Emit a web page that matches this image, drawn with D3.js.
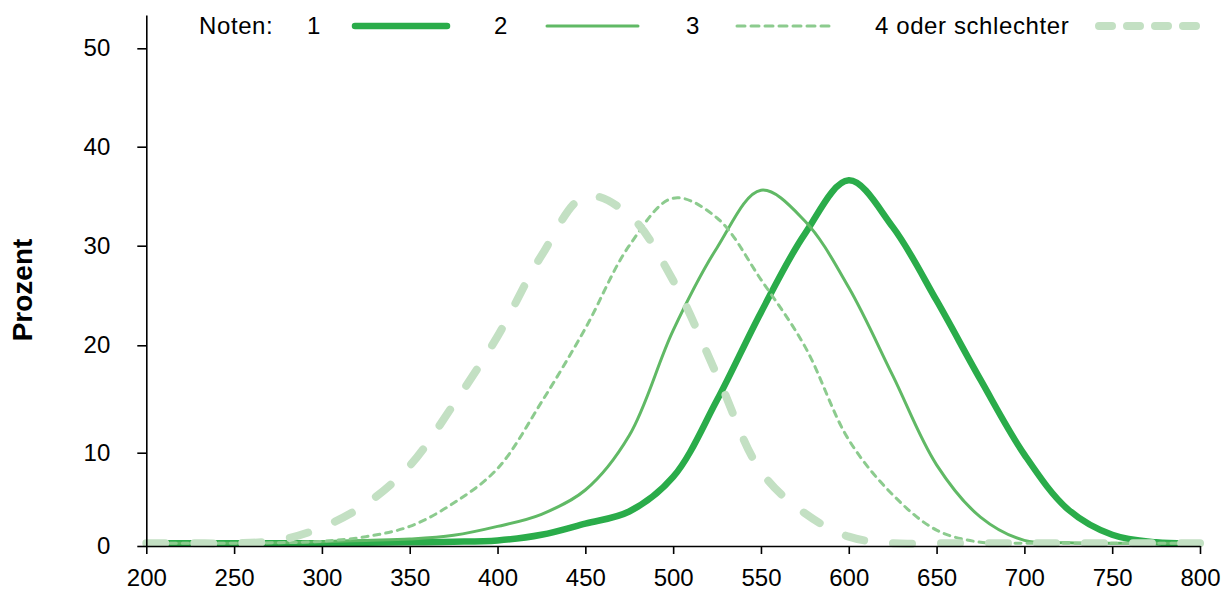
<!DOCTYPE html>
<html>
<head>
<meta charset="utf-8">
<script src="https://cdn.jsdelivr.net/npm/d3@7"></script>
<style>
  body { margin: 0; background: #fff; }
  svg { display: block; font-family: "Liberation Sans", Arial, sans-serif; }
</style>
</head>
<body>
<svg id="chart" width="1221" height="592"></svg>
<script>
// ---- data ----
const scores = [200,225,250,275,300,325,350,375,400,425,450,475,500,525,550,575,600,625,650,675,700,725,750,775,800];
const note1 = [0.3,0.3,0.3,0.3,0.3,0.35,0.4,0.45,0.6,1.2,2.4,3.7,7.4,14.9,23.3,31.2,36.6,31.9,24.5,16.8,9.8,3.9,1.2,0.4,0.3];
const note2 = [0.3,0.3,0.3,0.35,0.45,0.6,0.75,1.15,2.1,3.4,6.0,11.6,21.5,29.8,35.6,32.5,25.8,17.2,8.7,3.1,0.6,0.35,0.3,0.3,0.3];
const note3 = [0.3,0.3,0.3,0.35,0.5,1.0,2.1,4.6,8.3,14.7,21.7,30.0,34.8,32.8,26.6,19.9,11.2,5.5,1.7,0.4,0.3,0.3,0.3,0.3,0.3];
const note4 = [0.3,0.3,0.3,0.6,2.0,4.5,8.6,14.5,20.9,29.0,35.0,33.1,26.5,17.2,8.0,3.5,1.0,0.3,0.3,0.3,0.3,0.3,0.3,0.3,0.3];
const seriesNames = ["1","2","3","4 oder schlechter"];
const xTicks = [200,250,300,350,400,450,500,550,600,650,700,750,800];
const yTicks = [0,10,20,30,40,50];
const legendTitle = "Noten:";
const yLabel = "Prozent";

// ---- styles ----
const styles = [
  {color:"#2aac4a", width:6.5, dash:null, cap:"round", legendDash:null},
  {color:"#60b965", width:3, dash:null, cap:"round", legendDash:null},
  {color:"#8ccb8e", width:3, dash:"6,6", cap:"round", legendDash:"8,6"},
  {color:"#c3e0c3", width:8, dash:"19,29", cap:"round", legendDash:"13,15"}
];

const svg = d3.select("#chart");
const x = d3.scaleLinear().domain([200,800]).range([146.3,1200]);
// axis tick positions in the reference are slightly uneven; piecewise linear scale
const y = d3.scaleLinear().domain([0,10,20,30,40,50,53.4]).range([546,452.7,345.3,245.7,146.7,48.3,15]);

const allSeries = [note1,note2,note3,note4];

const line = d3.line()
  .x(d => x(d[0]))
  .y(d => y(d[1]))
  .curve(d3.curveCatmullRom.alpha(0.5));

allSeries.forEach((vals, i) => {
  const st = styles[i];
  const pts = scores.map((s, j) => [s, vals[j]]);
  svg.append("path")
    .datum(pts)
    .attr("d", line)
    .attr("fill", "none")
    .attr("stroke", st.color)
    .attr("stroke-width", st.width)
    .attr("stroke-linecap", st.cap)
    .attr("stroke-linejoin", "round")
    .attr("stroke-dasharray", st.dash);
});

// axes
const xAxis = d3.axisBottom(x).tickValues(xTicks).tickSize(8).tickSizeOuter(0).tickPadding(15).tickFormat(d3.format("d"));
const gx = svg.append("g").attr("transform", `translate(0,${y(0)})`).call(xAxis);
const yAxis = d3.axisLeft(y).tickValues(yTicks).tickSize(9).tickSizeOuter(0).tickPadding(27).tickFormat(d3.format("d"));
const gy = svg.append("g").attr("transform", `translate(${x(200)},0)`).call(yAxis);

[gx, gy].forEach(g => {
  g.select(".domain").attr("stroke", "#000").attr("stroke-width", 1.6);
  g.selectAll(".tick line").attr("stroke", "#000").attr("stroke-width", 1.6);
  g.selectAll(".tick text").attr("fill", "#000").style("font-size", "24px")
    .style("font-family", "'Liberation Sans', Arial, sans-serif");
});

// y label
svg.append("text")
  .attr("transform", `translate(32,290) rotate(-90)`)
  .attr("text-anchor", "middle")
  .style("font-size", "28px")
  .style("font-weight", "bold")
  .text(yLabel);

// legend
const lg = svg.append("g").style("font-size", "24px").style("letter-spacing", "0.6px");
lg.append("text").attr("x", 199).attr("y", 34).text(legendTitle);
const legendItems = [
  {tx: 307, x1: 355, x2: 447},
  {tx: 494, x1: 547, x2: 638},
  {tx: 686, x1: 737, x2: 830},
  {tx: 875, x1: 1099, x2: 1196}
];
legendItems.forEach((it, i) => {
  const st = styles[i];
  lg.append("text").attr("x", it.tx).attr("y", 34).text(seriesNames[i]);
  lg.append("line")
    .attr("x1", it.x1).attr("x2", it.x2).attr("y1", 26).attr("y2", 26)
    .attr("stroke", st.color)
    .attr("stroke-width", st.width)
    .attr("stroke-linecap", st.cap)
    .attr("stroke-dasharray", st.legendDash);
});
</script>
</body>
</html>
